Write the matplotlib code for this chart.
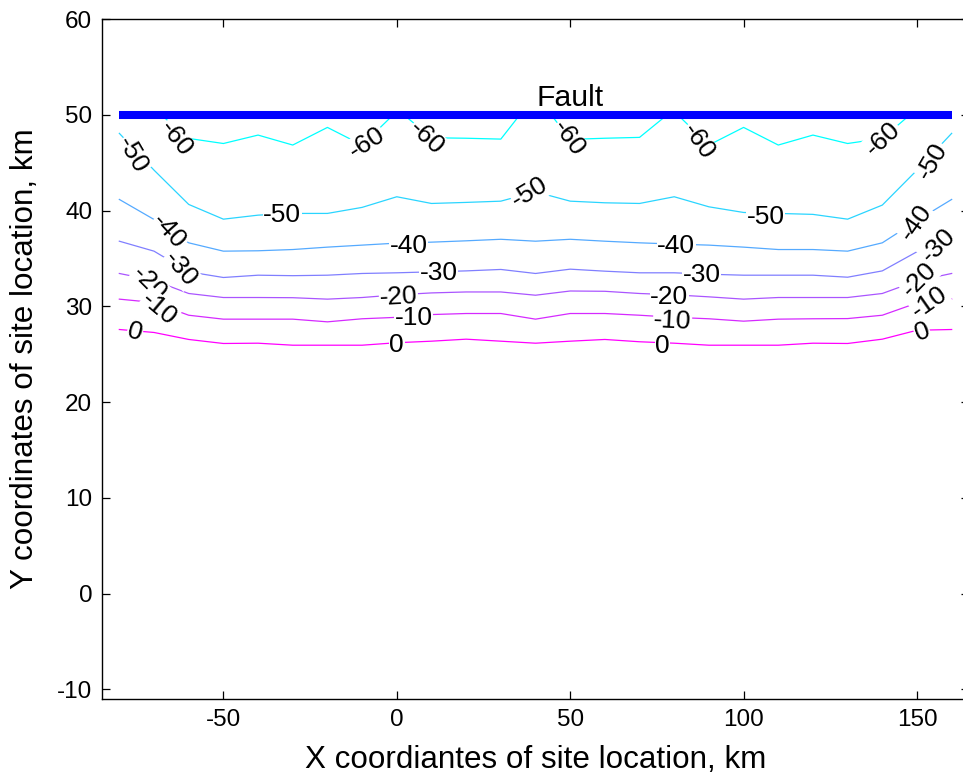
import matplotlib.pyplot as plt
from matplotlib import cm

plt.rcParams["font.family"] = ["Liberation Sans", "DejaVu Sans"]
plt.rcParams["axes.unicode_minus"] = False

# grid columns of the site model, km
x_km = [-80, -70, -60, -50, -40, -30, -20, -10, 0, 10, 20, 30, 40,
        50, 60, 70, 80, 90, 100, 110, 120, 130, 140, 150, 160]

levels = [-60, -50, -40, -30, -20, -10, 0]

# y (km) of each contour level at the grid columns
y_0 = [27.58, 27.27, 26.54, 26.12, 26.15, 25.94, 25.94, 25.94, 26.2, 26.36, 26.57, 26.36, 26.15,
       26.36, 26.54, 26.3, 26.15, 25.94, 25.94, 25.94, 26.15, 26.12, 26.57, 27.5, 27.58]
y_m10 = [30.75, 30.4, 29.07, 28.66, 28.66, 28.66, 28.38, 28.7, 28.85, 29.14, 29.25, 29.25, 28.66,
         29.25, 29.25, 29.07, 28.85, 28.7, 28.45, 28.66, 28.7, 28.72, 29.07, 30.35, 30.75]
y_m20 = [33.43, 32.7, 31.34, 30.92, 30.92, 30.9, 30.75, 30.92, 31.2, 31.4, 31.5, 31.5, 31.16,
         31.6, 31.57, 31.34, 31.2, 30.99, 30.75, 30.92, 30.92, 30.92, 31.34, 32.66, 33.43]
y_m30 = [36.8, 35.76, 33.6, 33.01, 33.25, 33.2, 33.25, 33.43, 33.5, 33.6, 33.7, 33.85, 33.43,
         33.88, 33.67, 33.5, 33.5, 33.35, 33.25, 33.25, 33.25, 33.04, 33.7, 35.7, 36.8]
y_m40 = [41.16, 39.07, 36.63, 35.76, 35.8, 35.93, 36.18, 36.39, 36.6, 36.7, 36.84, 37.0, 36.8,
         37.0, 36.8, 36.63, 36.5, 36.39, 36.18, 35.93, 35.93, 35.76, 36.63, 38.96, 41.16]
y_m50 = [48.06, 44.22, 40.64, 39.1, 39.52, 39.7, 39.7, 40.33, 41.44, 40.74, 40.85, 40.98, 41.96,
         40.98, 40.81, 40.74, 41.44, 40.39, 39.8, 39.7, 39.6, 39.1, 40.57, 44.22, 48.06]

# the -60 contour is cut by the fault into four pieces
m60_x = [[-68, -60, -50, -40, -30, -20, -10, -1],
         [2, 10, 20, 30, 35.5],
         [44.5, 50, 60, 70, 78],
         [81, 90, 100, 110, 120, 130, 140, 148]]
m60_y = [[50, 47.53, 47.0, 47.88, 46.84, 48.68, 46.84, 50],
         [50, 47.6, 47.55, 47.46, 50],
         [50, 47.43, 47.55, 47.64, 50],
         [50, 46.84, 48.68, 46.84, 47.88, 47.0, 47.53, 50]]

fault_x = [-80, 160]
fault_y = [50, 50]

# inline contour labels
lab_level = [-60, -60, -60, -60, -60, -60,
             -50, -50, -50, -50, -50,
             -40, -40, -40, -40,
             -30, -30, -30, -30,
             -20, -20, -20, -20,
             -10, -10, -10, -10,
             0, 0, 0, 0]
lab_x = [-63.7, -8.6, 8.7, 49.6, 86.9, 140.3,
         -76.2, -33.0, 38.4, 106.4, 154.5,
         -65.6, 3.4, 80.6, 149.6,
         -62.4, 12.1, 87.9, 156.1,
         -71.4, 0.5, 78.6, 150.6,
         -68.5, 4.9, 79.5, 153.7,
         -75.5, 0.0, 76.6, 151.5]
lab_y = [47.53, 47.1, 47.64, 47.53, 47.25, 47.53,
         45.8, 39.52, 41.9, 39.35, 45.2,
         37.8, 36.35, 36.35, 38.76,
         33.9, 33.43, 33.25, 36.3,
         32.4, 30.95, 30.95, 32.8,
         29.77, 28.73, 28.5, 30.46,
         27.33, 25.94, 25.85, 27.33]
lab_rot = [-52, 33, -43, -54, -55, 43,
           -60, 0, 31, 0, 60,
           -48, 0, 0, 55,
           -50, 0, 0, 45,
           -45, 3, 0, 45,
           -40, 0, -3, 35,
           -15, 0, 0, 20]


def level_color(level):
    return cm.cool((level - levels[0]) / (levels[-1] - levels[0]))


fig = plt.figure(figsize=(9.63, 7.8), dpi=100, facecolor="white")
ax = fig.add_axes([102 / 963, 81 / 780, 867 / 963, 680 / 780])

rows = {0: y_0, -10: y_m10, -20: y_m20, -30: y_m30, -40: y_m40, -50: y_m50}
for level, ys in rows.items():
    ax.plot(x_km, ys, color=level_color(level), lw=0.9, zorder=2)
for xs, ys in zip(m60_x, m60_y):
    ax.plot(xs, ys, color=level_color(-60), lw=0.9, zorder=2)

for lev, x, y, r in zip(lab_level, lab_x, lab_y, lab_rot):
    ax.text(x, y, str(lev), rotation=r, rotation_mode="anchor", ha="center", va="center",
            fontsize=19, zorder=3,
            bbox=dict(boxstyle="square,pad=0.02", fc="white", ec="none"))

ax.plot(fault_x, fault_y, color="blue", lw=5.8, solid_capstyle="butt", zorder=4)
ax.text(50, 50.9, "Fault", ha="center", va="baseline", fontsize=21.7, zorder=5)

ax.set_xlim(-85, 165)
ax.set_ylim(-11, 60)
ax.set_xticks([-50, 0, 50, 100, 150])
ax.set_yticks([-10, 0, 10, 20, 30, 40, 50, 60])
ax.tick_params(direction="in", length=6, width=0.9, top=True, right=True,
               labelsize=17.5, pad=7)
for s in ax.spines.values():
    s.set_linewidth(1.0)

ax.set_xlabel("X coordiantes of site location, km", fontsize=22.6)
ax.set_ylabel("Y coordinates of site location, km", fontsize=22.6)
ax.xaxis.set_label_coords(0.5, -0.067)
ax.yaxis.set_label_coords(-0.071, 0.5)

fig.savefig("out.png", dpi=100, facecolor="white")
